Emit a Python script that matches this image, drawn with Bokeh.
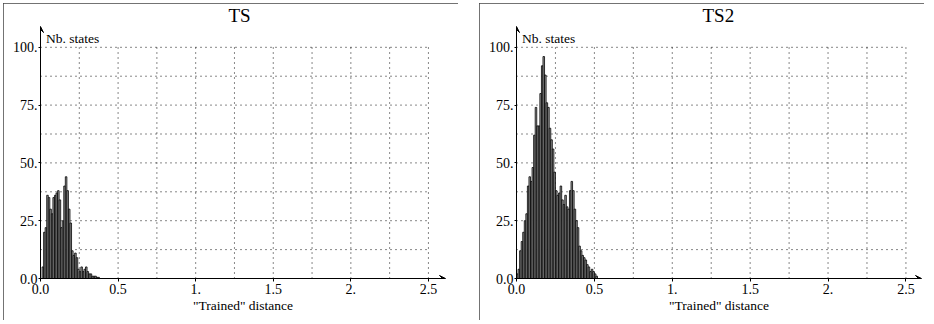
from bokeh.plotting import figure
from bokeh.layouts import row, column
from bokeh.models import Label, Arrow, VeeHead, FixedTicker, ColumnDataSource, Range1d, Spacer
from bokeh.embed import file_html
from bokeh.resources import INLINE

FONT = "Liberation Serif"

# histogram bin width ("Trained" distance)
BIN = 0.01

# TS histogram counts, one per bin starting at 0.00
ts_counts = [0, 5, 20, 22, 36, 35, 30, 28, 35, 36, 37, 38, 34, 22, 25, 40, 44, 38,
             30, 24, 12, 10, 11, 9, 4, 3, 5, 3, 4, 5, 3, 2, 2, 1, 1, 1, 0.5, 0.5]

# TS2 histogram counts, one per bin starting at 0.00
ts2_counts = [2, 4, 12, 16, 20, 25, 28, 40, 44, 42, 48, 62, 74, 66, 66, 80, 92, 96,
              88, 76, 74, 65, 60, 56, 46, 38, 36, 37, 40, 34, 32, 36, 31, 30, 38, 42,
              38, 30, 25, 22, 14, 12, 10, 9, 8, 6, 5, 3, 4, 3, 2, 1]

x_ticks = [0, 0.5, 1, 1.5, 2, 2.5]
x_tick_labels = ["0.0", "0.5", "1.", "1.5", "2.", "2.5"]
y_ticks = [0, 25, 50, 75, 100]
y_tick_labels = ["0.0", "25.", "50.", "75.", "100."]
x_grid = [0.25, 0.5, 0.75, 1.0, 1.25, 1.5, 1.75, 2.0, 2.25, 2.5]
y_grid = [12.5, 25, 37.5, 50, 62.5, 75, 87.5, 100]

X_MAX = 2.5
Y_MAX = 100


def panel(title, counts, width, b_left, b_right, x_end, y_end, title_offset):
    p = figure(width=width, height=317, output_backend="svg", toolbar_location=None,
               x_range=Range1d(0, x_end), y_range=Range1d(0, y_end),
               min_border_left=b_left, min_border_right=b_right,
               min_border_top=21, min_border_bottom=42)
    p.outline_line_color = None
    p.xgrid.visible = False
    p.ygrid.visible = False
    p.styles = {"outline": "1px solid #444", "outline-offset": "-1px"}

    p.title.text = title
    p.title.align = "left"
    p.title.offset = title_offset
    p.title.standoff = 0
    p.title.vertical_align = "middle"
    p.title.text_font = FONT
    p.title.text_font_size = "19px"
    p.title.text_font_style = "normal"
    p.title.text_color = "black"

    # dotted grid
    p.segment(x0=x_grid, x1=x_grid, y0=[0] * len(x_grid), y1=[Y_MAX] * len(x_grid),
              line_color="#111", line_width=1, line_dash="1 4")
    p.segment(x0=[0] * len(y_grid), x1=[X_MAX] * len(y_grid), y0=y_grid, y1=y_grid,
              line_color="#111", line_width=1, line_dash="1 4")

    centers = [round(i * BIN + BIN / 2, 4) for i in range(len(counts))]
    src = ColumnDataSource(dict(x=centers, top=counts))
    p.vbar(x="x", top="top", width=BIN, bottom=0, source=src,
           fill_color="#a0a0a0", line_color="black", line_width=0.8)

    for ax in (p.xaxis[0], p.yaxis[0]):
        ax.axis_line_color = "black"
        ax.axis_line_width = 1
        ax.major_tick_line_color = "black"
        ax.minor_tick_line_color = None
        ax.major_label_text_font = FONT
        ax.major_label_text_font_size = "14px"
        ax.major_label_text_color = "black"
        ax.major_tick_in = 0
    p.xaxis.ticker = FixedTicker(ticks=x_ticks)
    p.xaxis.major_label_overrides = dict(zip(x_ticks, x_tick_labels))
    p.xaxis.major_label_text_align = "left"
    p.xaxis.major_tick_out = 3
    p.xaxis.major_label_standoff = 2
    p.xaxis.axis_label = '"Trained" distance'
    p.xaxis.axis_label_text_font = FONT
    p.xaxis.axis_label_text_font_size = "13.5px"
    p.xaxis.axis_label_text_font_style = "normal"
    p.xaxis.axis_label_text_color = "black"
    p.xaxis.axis_label_standoff = 1
    p.yaxis.ticker = FixedTicker(ticks=y_ticks)
    p.yaxis.major_label_overrides = dict(zip(y_ticks, y_tick_labels))
    p.yaxis.major_label_text_baseline = "alphabetic"
    p.yaxis.major_tick_out = 2
    p.yaxis.major_label_standoff = 1

    # arrow heads at the axis ends
    p.add_layout(Arrow(end=VeeHead(size=6, line_color="black", line_width=1),
                       x_start=0, y_start=0, x_end=x_end, y_end=0, line_color="black"))
    p.add_layout(Arrow(end=VeeHead(size=6, line_color="black", line_width=1),
                       x_start=0, y_start=0, x_end=0, y_end=y_end, line_color="black"))

    p.add_layout(Label(x=0.035, y=104, text="Nb. states", text_font=FONT,
                       text_font_size="13.5px", text_align="left",
                       text_baseline="middle", text_color="black"))
    return p


p1 = panel("TS", ts_counts, 455, 37, 13, 2.61, 109, 188)
p2 = panel("TS2", ts2_counts, 445, 37, 3, 2.6, 109, 186)

layout = column(Spacer(height=3),
                row(Spacer(width=3), p1, Spacer(width=21), p2, spacing=0),
                spacing=0)
open("out.html", "w").write(file_html(layout, INLINE))
